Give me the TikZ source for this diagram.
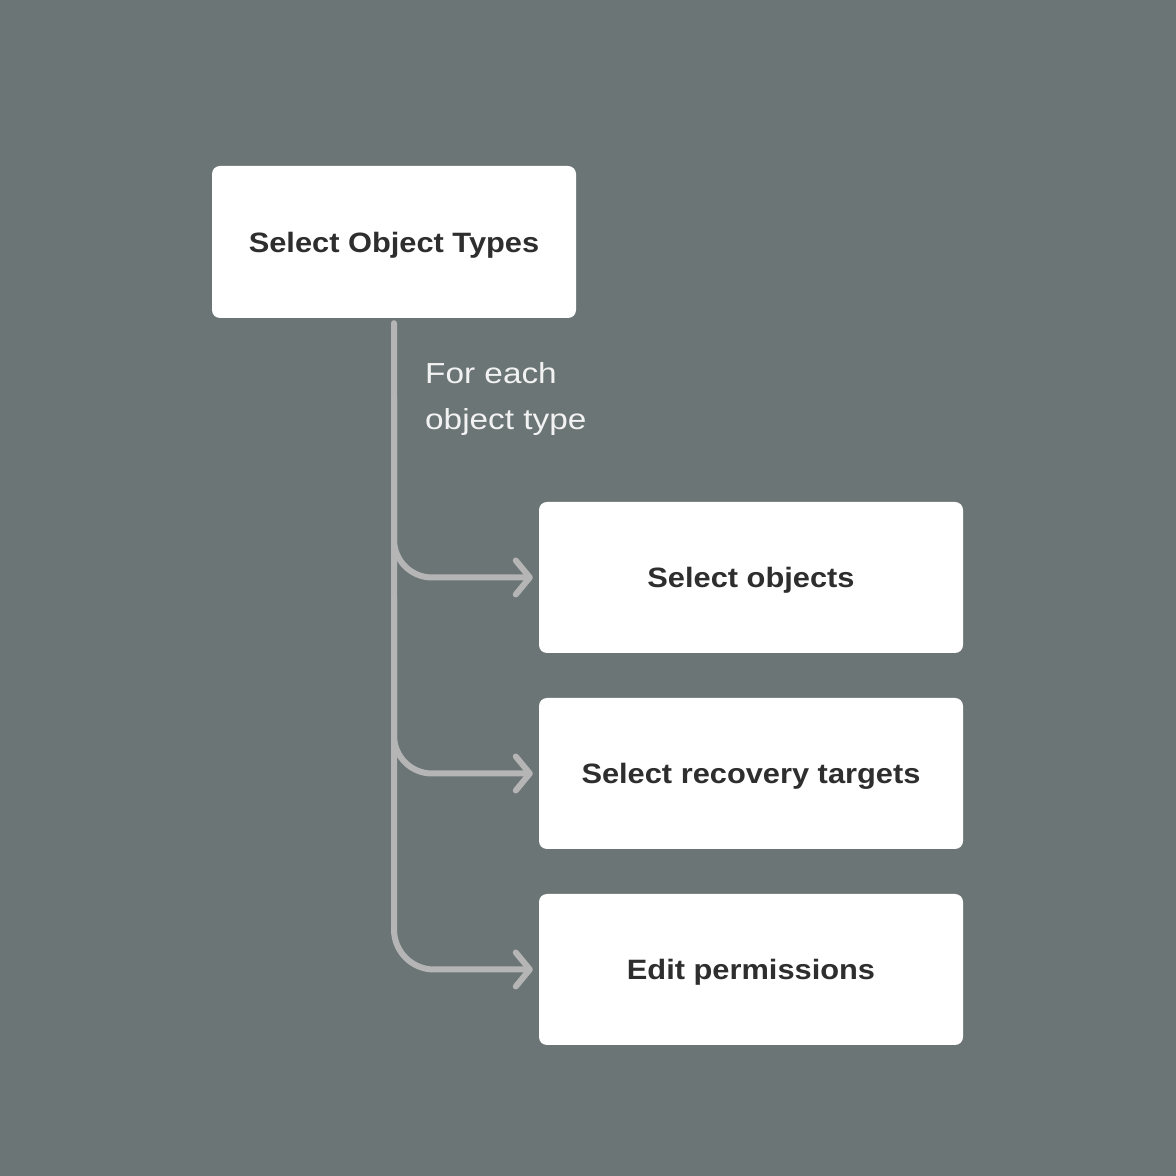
\documentclass[tikz,border=0pt]{standalone}
\usepackage{fontspec}
\setmainfont{Liberation Sans}
\newfontfamily\boxfont[FakeStretch=1.1]{Liberation Sans}
\newfontfamily\notefont[FakeStretch=1.15]{Liberation Sans}
\usetikzlibrary{arrows.meta}
\definecolor{bggray}{HTML}{6C7576}
\definecolor{linegray}{HTML}{B5B5B5}
\definecolor{inkgray}{HTML}{2E2E2E}

\begin{document}
\begin{tikzpicture}[x=1pt,y=1pt]
\tikzset{step box/.style = {shape=rectangle,fill=white,rounded corners=8pt,
  inner sep=0pt,text height=21pt,text depth=0pt,text=inkgray,
  font=\boxfont\fontsize{28}{34}\selectfont\bfseries}}
\tikzset{note/.style = {anchor=base west,inner sep=0pt,text=white!95!black,
  font=\notefont\fontsize{29}{34}\selectfont}}
\tikzset{edge/.style = {line width=6pt,draw=linegray,line cap=round,
  -{Straight Barb[length=14pt,width=34pt,line width=6pt,line cap=round,round]}}}
\fill[bggray] (0,0) rectangle (1176,1176);

\node[step box,minimum width=364pt,minimum height=152pt] (types) at (394,934) {Select Object Types};
\node[step box,minimum width=424pt,minimum height=151pt] (objs) at (751,598.5) {Select objects};
\node[step box,minimum width=424pt,minimum height=151pt] (targets) at (751,402.5) {Select recovery targets};
\node[step box,minimum width=424pt,minimum height=151pt] (perms) at (751,206.5) {Edit permissions};

\node[note] (each) at (425,792) {For each};
\node[note] (type) at (425,746) {object type};

\draw[edge,rounded corners=40pt] ([yshift=-5pt]types.south) |- ([xshift=-6pt]perms.west);
\draw[edge,rounded corners=38pt] ([yshift=-80pt]types.south) |- ([xshift=-6pt]objs.west);
\draw[edge,rounded corners=38pt] ([yshift=-280pt]types.south) |- ([xshift=-6pt]targets.west);
\end{tikzpicture}
\end{document}
